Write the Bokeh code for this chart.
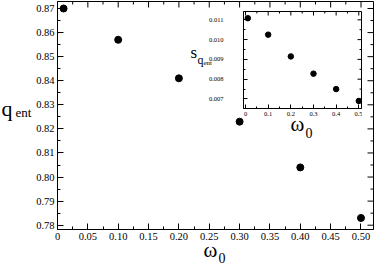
import math
from bokeh.plotting import figure
from bokeh.models import Range1d, FixedTicker, Label
from bokeh.layouts import column
from bokeh.embed import file_html
from bokeh.resources import INLINE

# ---- data ----
omega = [0.01, 0.1, 0.2, 0.3, 0.4, 0.5]
q_ent = [0.870, 0.857, 0.841, 0.823, 0.804, 0.783]
s_q_ent = [0.01108, 0.01025, 0.00915, 0.00828, 0.00750, 0.00690]

main_x_ticks = [0, 0.05, 0.10, 0.15, 0.20, 0.25, 0.30, 0.35, 0.40, 0.45, 0.50]
main_x_labels = ["0", "0.05", "0.10", "0.15", "0.20", "0.25", "0.30", "0.35", "0.40", "0.45", "0.50"]
main_y_ticks = [0.78, 0.79, 0.80, 0.81, 0.82, 0.83, 0.84, 0.85, 0.86, 0.87]
main_y_labels = ["0.78", "0.79", "0.80", "0.81", "0.82", "0.83", "0.84", "0.85", "0.86", "0.87"]
inset_x_ticks = [0, 0.1, 0.2, 0.3, 0.4, 0.5]
inset_x_labels = ["0", "0.1", "0.2", "0.3", "0.4", "0.5"]
inset_y_ticks = [0.007, 0.008, 0.009, 0.010, 0.011]
inset_y_labels = ["0.007", "0.008", "0.009", "0.010", "0.011"]

FONT = "Liberation Serif"
W, H = 374, 269

# main geometry (page px)
MX0, MX1 = 0.0, 0.5206
MY0, MY1 = 0.77821, 0.87291
M_LEFT, M_TOP, M_RIGHT, M_BOTTOM = 57, 1, 373, 229

# inset geometry (page px)
IX0, IX1 = -0.009, 0.512
IY0, IY1 = 0.00652, 0.01142
I_FIG_LEFT, I_FIG_TOP, I_FIG_RIGHT, I_FIG_BOTTOM = 188, 10, 362, 146
I_LEFT, I_TOP, I_RIGHT, I_BOTTOM = 243, 11, 361, 108


def minors(ticks):
    return [(a + b) / 2 for a, b in zip(ticks, ticks[1:])]


def style_axis(ax, ticks, labels, size, standoff=3, tin=6, mtin=3):
    ax.ticker = FixedTicker(ticks=ticks, minor_ticks=minors(ticks))
    ax.major_label_overrides = {t: l for t, l in zip(ticks, labels)}
    ax.major_tick_in = tin
    ax.major_tick_out = 0
    ax.minor_tick_in = mtin
    ax.minor_tick_out = 0
    ax.major_tick_line_color = "black"
    ax.minor_tick_line_color = "black"
    ax.axis_line_color = "black"
    ax.major_label_text_font = FONT
    ax.major_label_text_color = "black"
    ax.major_label_text_font_size = size
    ax.major_label_standoff = standoff


def mirror_ticks(fig, ticks, x_edge, y_edge, tin, mtin):
    # ticks on the top (x) or right (y) frame edge, half clipped by the frame
    m = minors(ticks)
    if x_edge is None:
        fig.scatter(ticks, [y_edge] * len(ticks), marker="dash", angle=math.pi / 2,
                    size=2 * tin, line_color="black", line_width=1)
        fig.scatter(m, [y_edge] * len(m), marker="dash", angle=math.pi / 2,
                    size=2 * mtin, line_color="black", line_width=1)
    else:
        fig.scatter([x_edge] * len(ticks), ticks, marker="dash",
                    size=2 * tin, line_color="black", line_width=1)
        fig.scatter([x_edge] * len(m), m, marker="dash",
                    size=2 * mtin, line_color="black", line_width=1)


# ---- main figure ----
p = figure(width=W, height=H, x_range=Range1d(MX0, MX1), y_range=Range1d(MY0, MY1),
           output_backend="svg", toolbar_location=None,
           min_border_left=M_LEFT, min_border_right=W - M_RIGHT, min_border_top=M_TOP,
           min_border_bottom=H - M_BOTTOM)
p.frame_align = False
p.grid.visible = False
p.outline_line_color = "black"
p.outline_line_width = 1
p.background_fill_color = "white"
p.border_fill_color = "white"

style_axis(p.xaxis[0], main_x_ticks, main_x_labels, "10.5px", standoff=3)
style_axis(p.yaxis[0], main_y_ticks, main_y_labels, "10.5px", standoff=3)
mirror_ticks(p, main_x_ticks, None, MY1, 6, 3)
mirror_ticks(p, main_y_ticks, MX1, None, 6, 3)

p.scatter(omega, q_ent, size=7, color="black")

# ---- inset figure ----
ins = figure(width=I_FIG_RIGHT - I_FIG_LEFT, height=I_FIG_BOTTOM - I_FIG_TOP,
             x_range=Range1d(IX0, IX1), y_range=Range1d(IY0, IY1),
             output_backend="svg", toolbar_location=None,
             min_border_left=I_LEFT - I_FIG_LEFT, min_border_right=I_FIG_RIGHT - I_RIGHT,
             min_border_top=I_TOP - I_FIG_TOP,
             min_border_bottom=I_FIG_BOTTOM - I_BOTTOM,
             styles={"position": "absolute", "left": f"{I_FIG_LEFT}px", "top": f"{I_FIG_TOP}px"})
ins.frame_align = False
ins.grid.visible = False
ins.outline_line_color = "black"
ins.outline_line_width = 1
ins.background_fill_color = "white"
ins.border_fill_color = None

style_axis(ins.xaxis[0], inset_x_ticks, inset_x_labels, "6.5px", standoff=3, tin=4, mtin=2)
style_axis(ins.yaxis[0], inset_y_ticks, inset_y_labels, "6.5px", standoff=20, tin=4, mtin=2)
mirror_ticks(ins, inset_x_ticks, None, IY1, 4, 2)
mirror_ticks(ins, inset_y_ticks, IX1, None, 4, 2)

ins.scatter(omega, s_q_ent, size=5.5, color="black")

# ---- transparent overlay holding the axis titles (page pixel coordinates) ----
ov = figure(width=W, height=H, x_range=Range1d(0, W), y_range=Range1d(H, 0),
            output_backend="svg", toolbar_location=None, min_border=0,
            styles={"position": "absolute", "left": "0px", "top": "0px"})
ov.frame_align = False
ov.axis.visible = False
ov.grid.visible = False
ov.outline_line_color = None
ov.background_fill_color = None
ov.border_fill_color = None

titles = [
    ("q", 1, 108, "22px"),
    ("ent", 15, 112, "13px"),
    ("\u03c9", 203, 249, "21px"),
    ("0", 218, 257, "14px"),
    ("s", 190, 52, "17px"),
    ("q", 197, 59, "12px"),
    ("ent", 203, 62, "7px"),
    ("\u03c9", 290, 123, "21px"),
    ("0", 305, 132, "14px"),
]
for text, px, py, size in titles:
    ov.add_layout(Label(x=px, y=py, text=text, text_font=FONT, text_font_size=size,
                        text_color="black", text_align="left", text_baseline="alphabetic"))

layout = column(p, ins, ov)
open("out.html", "w").write(file_html(layout, INLINE))
